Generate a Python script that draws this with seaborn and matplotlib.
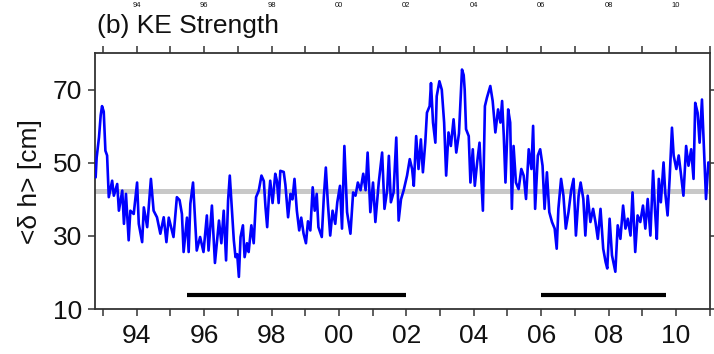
import matplotlib
matplotlib.use("Agg")
import matplotlib.pyplot as plt
import matplotlib.transforms as mtransforms
import seaborn as sns
import pandas as pd

# ---------------- data ----------------
years = [
    1992.78, 1992.81, 1992.88, 1992.93, 1992.97, 1993.02, 1993.07, 1993.12, 1993.17, 1993.27,
    1993.32, 1993.42, 1993.47, 1993.57, 1993.62, 1993.68, 1993.76, 1993.81, 1993.91, 1994.01,
    1994.06, 1994.16, 1994.21, 1994.31, 1994.42, 1994.50, 1994.60, 1994.70, 1994.80, 1994.88,
    1994.95, 1995.02, 1995.09, 1995.19, 1995.27, 1995.34, 1995.39, 1995.49, 1995.54, 1995.59,
    1995.67, 1995.74, 1995.78, 1995.88, 1995.98, 1996.08, 1996.13, 1996.23, 1996.32,
    1996.44, 1996.51, 1996.58, 1996.65, 1996.71, 1996.76, 1996.81, 1996.88, 1996.93, 1996.98,
    1997.03, 1997.08, 1997.15, 1997.20, 1997.27, 1997.32, 1997.40, 1997.47, 1997.54, 1997.62,
    1997.70, 1997.77, 1997.82, 1997.87, 1997.92, 1997.96, 1998.03, 1998.11, 1998.16, 1998.21,
    1998.26, 1998.36, 1998.41, 1998.49, 1998.56, 1998.62, 1998.68, 1998.75, 1998.82, 1998.88,
    1998.95, 1999.02, 1999.08, 1999.15, 1999.22, 1999.28, 1999.34, 1999.39, 1999.49, 1999.55,
    1999.61, 1999.67, 1999.74, 1999.81, 1999.89,
    1999.95, 2000.03, 2000.09, 2000.16, 2000.24, 2000.34, 2000.42, 2000.49, 2000.56, 2000.64,
    2000.72, 2000.79, 2000.85, 2000.93, 2001.01, 2001.08, 2001.18, 2001.28, 2001.35, 2001.43,
    2001.48, 2001.54, 2001.62, 2001.70, 2001.77, 2001.84, 2001.92, 2002.02, 2002.10, 2002.17,
    2002.22, 2002.29, 2002.36, 2002.43, 2002.49, 2002.56, 2002.61, 2002.69, 2002.73, 2002.79,
    2002.86, 2002.90, 2002.98, 2003.05, 2003.12, 2003.18, 2003.25, 2003.32, 2003.40, 2003.48,
    2003.56, 2003.65, 2003.70, 2003.73, 2003.77, 2003.85, 2003.90, 2003.97, 2004.03, 2004.10,
    2004.17, 2004.27, 2004.33, 2004.39, 2004.49, 2004.56, 2004.64, 2004.72, 2004.79, 2004.84,
    2004.89, 2004.94, 2005.02, 2005.08, 2005.13, 2005.18, 2005.25, 2005.33, 2005.41, 2005.48,
    2005.55, 2005.63, 2005.71, 2005.76, 2005.82, 2005.90, 2005.97, 2006.04, 2006.10, 2006.17,
    2006.24, 2006.32, 2006.40, 2006.46, 2006.51, 2006.59, 2006.66, 2006.73, 2006.81, 2006.89,
    2006.96, 2007.03, 2007.11,
    2007.17, 2007.25, 2007.31, 2007.38, 2007.46, 2007.54, 2007.61, 2007.68, 2007.76, 2007.84,
    2007.91, 2007.96, 2008.03, 2008.10, 2008.20, 2008.27, 2008.35, 2008.43, 2008.50, 2008.57,
    2008.65, 2008.71, 2008.79, 2008.86, 2008.94, 2009.02, 2009.09, 2009.16, 2009.24, 2009.32,
    2009.38, 2009.43, 2009.49, 2009.55, 2009.63, 2009.68, 2009.75, 2009.81, 2009.88, 2009.93,
    2010.01, 2010.08, 2010.14, 2010.22, 2010.30, 2010.37, 2010.45, 2010.52, 2010.57, 2010.64,
    2010.70, 2010.77, 2010.83, 2010.89, 2010.96,
]

ke_strength = [
    46.0, 51.4, 57.0, 63.0, 65.5, 64.0, 53.3, 52.0, 40.6, 45.1,
    41.0, 44.2, 36.9, 42.4, 33.3, 41.5, 28.8, 36.9, 36.0, 44.6,
    33.3, 28.3, 37.8, 32.4, 45.6, 36.9, 35.1, 30.6, 35.1, 28.3,
    35.0, 32.4, 29.7, 40.6, 39.8, 36.0, 25.6, 35.0, 25.6, 38.8,
    44.6, 32.4, 26.0, 29.7, 25.6, 35.6, 26.0, 38.3, 22.6,
    34.2, 28.0, 36.9, 23.3, 39.7, 46.5, 39.0, 28.8, 24.2, 25.0,
    18.8, 29.7, 32.9, 24.2, 28.0, 25.6, 32.9, 28.0, 40.6, 42.4,
    46.5, 45.0, 37.8, 32.4, 40.6, 45.1, 39.0, 47.0, 45.0, 39.0,
    47.8, 47.5, 44.0, 35.1, 41.5, 40.0, 45.6, 36.9, 31.5, 35.0,
    30.6, 28.0, 34.0, 31.5, 43.3, 36.9, 41.5, 32.4, 29.7, 40.6,
    48.7, 39.0, 30.1, 36.9, 33.3,
    39.2, 43.7, 32.0, 54.6, 36.5, 30.6, 41.9, 41.0, 44.6, 42.5,
    47.0, 42.5, 52.8, 36.5, 44.6, 33.8, 44.6, 52.8, 37.4, 42.5,
    51.9, 39.2, 41.9, 56.9, 34.2, 40.0, 42.5, 46.5, 51.0, 48.3,
    43.7, 57.3, 48.3, 56.4, 47.4, 55.5, 63.7, 65.5, 71.8, 61.0,
    55.5, 68.2, 72.3, 70.0, 61.0, 46.5, 58.3, 54.6, 61.9, 52.8,
    58.0, 75.5, 74.0, 70.0, 59.2, 57.3, 44.6, 53.7, 43.7, 50.1,
    55.5, 36.9, 65.5, 67.8, 71.0, 66.9, 58.3, 64.6, 61.0, 66.9,
    57.3, 44.6, 64.6, 61.0, 37.4, 54.6, 44.6, 42.8, 48.3, 46.5,
    40.1, 53.7, 48.3, 60.1, 37.4, 52.0, 53.7, 49.2, 37.4, 47.4,
    36.5, 33.8, 32.0, 26.5, 37.4, 45.6, 41.0, 32.0, 36.5, 42.5,
    45.6, 30.1, 41.0,
    44.6, 40.1, 30.1, 41.0, 33.8, 37.4, 33.8, 29.2, 37.4, 26.5,
    22.9, 21.1, 34.7, 24.7, 20.2, 32.9, 29.2, 38.3, 32.0, 34.7,
    30.1, 41.9, 25.6, 35.6, 33.8, 38.3, 32.0, 40.1, 30.1, 47.8,
    36.5, 29.2, 45.6, 39.2, 50.1, 41.9, 35.6, 45.6, 59.6, 52.0,
    48.3, 52.0, 47.4, 41.0, 54.6, 49.2, 53.7, 45.6, 66.4, 63.7,
    55.5, 67.3, 53.7, 40.1, 50.1,
]

mean_level = 42.2
period_starts = [1995.48, 2006.0]
period_ends = [2002.0, 2009.7]
period_level = 13.8

tick_years = list(range(1993, 2012))
label_years = [1994, 1996, 1998, 2000, 2002, 2004, 2006, 2008, 2010]
label_texts = ["94", "96", "98", "00", "02", "04", "06", "08", "10"]
y_ticks = [10, 30, 50, 70]

# ---------------- figure ----------------
sns.set_theme(style="white")
plt.rcParams["font.family"] = ["Liberation Sans", "DejaVu Sans"]

fig = plt.figure(figsize=(7.14, 3.54), dpi=100)
ax = fig.add_axes([0.133, 0.127, 0.861, 0.723])

ax.axhline(mean_level, color="#c8c8c8", lw=3.6, zorder=1)
for s, e in zip(period_starts, period_ends):
    ax.plot([s, e], [period_level, period_level], color="black", lw=3.0,
            solid_capstyle="butt", zorder=2)

df = pd.DataFrame({"year": years, "ke": ke_strength})
sns.lineplot(data=df, x="year", y="ke", ax=ax, color="#0000ff", lw=1.9,
             estimator=None, sort=False, zorder=3)

ax.set_xlim(1992.76, 2011.0)
ax.set_ylim(10, 80)

ax.set_xticks(tick_years)
ax.set_xticklabels([label_texts[label_years.index(y)] if y in label_years else ""
                    for y in tick_years])
ax.set_yticks(y_ticks)
ax.set_yticklabels([str(v) for v in y_ticks])

ax.tick_params(axis="both", which="major", direction="out", length=5, width=1.1,
               color="#333333", labelsize=19, labelcolor="#111111",
               bottom=True, top=True, left=True, right=True)
ax.tick_params(axis="x", pad=6)
ax.tick_params(axis="y", pad=4)

for sp in ax.spines.values():
    sp.set_visible(True)
    sp.set_color("#333333")
    sp.set_linewidth(1.3)

ax.set_xlabel("")
ax.set_ylabel("<δ h> [cm]", fontsize=19, color="#111111", labelpad=8)

fig.text(0.136, 0.906, "(b) KE Strength", fontsize=19, color="#111111",
         ha="left", va="baseline")

# tick labels of the panel above (shown small so they stay inside the image)
trans = mtransforms.blended_transform_factory(ax.transData, fig.transFigure)
for y, t in zip(label_years, label_texts):
    ax.text(y, 0.980, t, transform=trans, fontsize=5.5, color="#111111",
            ha="center", va="baseline", clip_on=False)

fig.savefig("out.png", dpi=100)
